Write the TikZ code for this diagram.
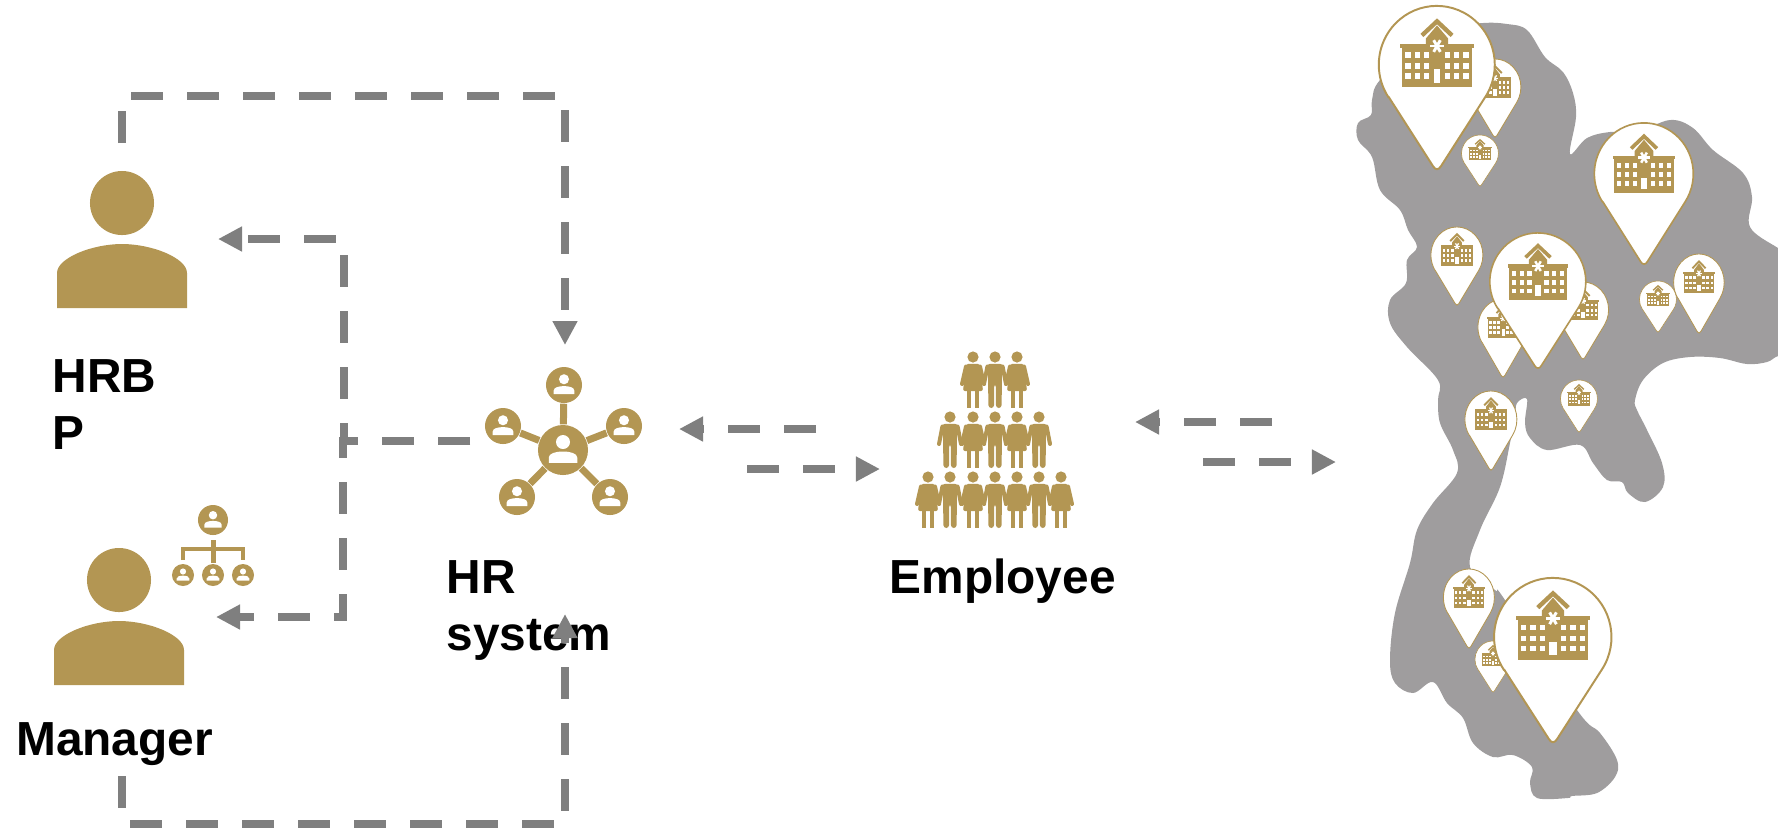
\documentclass[tikz,border=0pt]{standalone}
\usepackage{fontspec}
\setmainfont{Liberation Sans}
\usepackage{tikz}
\usetikzlibrary{arrows.meta}

\definecolor{gold}{HTML}{B39653}
\definecolor{linegray}{HTML}{7F7F7F}
\definecolor{mapgray}{HTML}{9F9D9E}

% white bust inside a round user icon
\newcommand{\bustin}[3]{
  \fill[white] (#1,{#2-.32*#3}) circle [radius={.28*#3}];
  \fill[white] ({#1-.57*#3},{#2+.51*#3}) -- ({#1-.57*#3},{#2+.3*#3})
    .. controls ({#1-.57*#3},{#2+.14*#3}) and ({#1-.3*#3},{#2+.06*#3}) .. (#1,{#2+.06*#3})
    .. controls ({#1+.3*#3},{#2+.06*#3}) and ({#1+.57*#3},{#2+.14*#3}) .. ({#1+.57*#3},{#2+.3*#3})
    -- ({#1+.57*#3},{#2+.51*#3}) -- cycle;
}
% shoulders of a large person, x y of the head centre
\newcommand{\shoulders}[2]{
  \fill[gold] (#1-65,#2+105) -- (#1-65,#2+70) .. controls (#1-65,#2+55) and (#1-30,#2+41) .. (#1,#2+41)
    .. controls (#1+30,#2+41) and (#1+65,#2+55) .. (#1+65,#2+70) -- (#1+65,#2+105) -- cycle;
}
\newcommand{\manfig}[2]{
  \begin{scope}[shift={(#1,#2)}]
    \fill[gold] (0,0) circle [radius=5.6];
    \fill[gold,rounded corners=.03cm] (-8,6.8) -- (8,6.8) -- (7,14) -- (6.6,51) -- (.9,51) -- (.9,27) -- (-.9,27) -- (-.9,51) -- (-6.6,51) -- (-7,14) -- cycle;
    \draw[gold,line width=.04cm,line cap=round] (-7.6,9.5) -- (-11,27);
    \draw[gold,line width=.04cm,line cap=round] (7.6,9.5) -- (11,27);
  \end{scope}
}
\newcommand{\womanfig}[2]{
  \begin{scope}[shift={(#1,#2)}]
    \fill[gold] (0,0) circle [radius=5.6];
    \fill[gold,rounded corners=.02cm] (-7,6.8) -- (7,6.8) -- (10,34) -- (-10,34) -- cycle;
    \fill[gold] (-6.2,33) rectangle (-2,51);
    \fill[gold] (2.2,33) rectangle (6.4,51);
    \draw[gold,line width=.04cm,line cap=round] (-7,9.5) -- (-11,27);
    \draw[gold,line width=.04cm,line cap=round] (7,9.5) -- (11,27);
  \end{scope}
}
% map pin with hospital: x, top, tip, half width
\newcommand{\hospital}[4]{
  \begin{scope}[shift={(#1,{#2+(#3-#2)/2.77})},xscale=#4,yscale={(#3-#2)/2.77}]
    \filldraw[fill=white,draw=gold,line width={#4*0.00034cm}] (-.83,.55) -- (-.07,1.72)
      .. controls (-.03,1.79) and (.03,1.79) .. (.07,1.72) -- (.83,.55)
      arc [start angle=33.5,end angle=-213.5,radius=1] -- cycle;
    \draw[gold,line width={#4*0.00075cm}] (-.26,-.5) -- (0,-.74) -- (.26,-.5);
    \fill[gold] (-.19,-.34) -- (-.19,-.45) -- (0,-.67) -- (.19,-.45) -- (.19,-.34) -- cycle;
    \fill[gold] (-.63,-.36) rectangle (.63,-.29);
    \fill[gold] (-.6,-.3) rectangle (.6,.38);
    \foreach \wx in {-.5,-.34,-.18,.18,.34,.5}
      \foreach \wy in {-.167,.017,.19}
        \fill[white] (\wx-.045,\wy-.045) rectangle (\wx+.045,\wy+.045);
    \fill[white] (-.06,.075) rectangle (.06,.3);
    \foreach \a in {0,60,120}
      \draw[white,line width={#4*0.0005cm}] (\a:.115) ++(0,-.32) -- ++({\a+180}:.23);
  \end{scope}
}

\begin{document}
\begin{tikzpicture}[x=.01cm,y=-.01cm]
\tikzstyle{connect}=[-{Triangle[length=.24cm,width=.235cm]}, line width=.08cm, draw=linegray, dash pattern=on .32cm off .24cm]
\tikzstyle{head}=[circle, fill=gold, inner sep=0pt, minimum size=.64cm]
\tikzstyle{peer}=[circle, fill=gold, inner sep=0pt, minimum size=.36cm]
\tikzstyle{subpeer}=[circle, fill=gold, inner sep=0pt, minimum size=.22cm]
\tikzstyle{spoke}=[draw=gold, line width=.07cm]
\tikzstyle{tree}=[draw=gold, line width=.035cm]
\tikzstyle{lbl}=[inner sep=0pt, align=left, font=\bfseries\fontsize{13.6}{16.2}\selectfont]
\useasboundingbox (0,0) rectangle (1778,829);

% map
\fill[mapgray] plot[smooth cycle, tension=.6] coordinates {
  (1483,23) (1507,24) (1527,30) (1545,57) (1563,72) (1573,93) (1576,117) (1570,154)
  (1587,138) (1610,132) (1637,132) (1670,120) (1693,128) (1713,150) (1743,173) (1752,197)
  (1750,227) (1778,248) (1800,260) (1800,350) (1778,356) (1767,362) (1747,364) (1720,358) (1690,357)
  (1663,363) (1643,380) (1635,400) (1637,410) (1647,430) (1662,463) (1663,487) (1645,502)
  (1628,493) (1622,482) (1607,480) (1593,463) (1580,445) (1547,450) (1530,438) (1525,423)
  (1527,399) (1517,403) (1515,417) (1510,443) (1500,487) (1480,530) (1470,567) (1495,590)
  (1505,600) (1577,710) (1600,733) (1617,760) (1615,777) (1597,793) (1572,796) (1568,798)
  (1537,798) (1530,783) (1532,767) (1513,755) (1493,757) (1473,743) (1463,718) (1447,703)
  (1433,682) (1413,693) (1395,683) (1390,660) (1395,613) (1410,563) (1417,530) (1433,503)
  (1457,473) (1453,450) (1440,423) (1438,400) (1438,380) (1407,347) (1390,323) (1390,300)
  (1406,283) (1407,260) (1417,247) (1408,230) (1400,210) (1380,190) (1372,157) (1358,140)
  (1358,123) (1371,115) (1372,100) (1380,80) (1420,45) (1450,28)};

% hospitals
\hospital{1495}{59}{137}{26}
\hospital{1437}{6}{169}{58}
\hospital{1480}{135}{186}{18.5}
\hospital{1644}{123}{264}{49.5}
\hospital{1457}{227}{305}{26}
\hospital{1583}{282}{359}{25.7}
\hospital{1503}{299}{377}{25}
\hospital{1538}{233}{368}{48}
\hospital{1658}{281}{332}{18.5}
\hospital{1699}{254}{333}{25.3}
\hospital{1579}{380}{432}{18.5}
\hospital{1491}{391}{470}{26}
\hospital{1469}{569}{648}{25.5}
\hospital{1493}{641}{692}{18}
\hospital{1553}{578}{742}{58.7}

% persons
\node[head] (hrbp) at (122,203) {};
\shoulders{122}{203}
\node[head] (manager) at (119,580) {};
\shoulders{119}{580}

% org chart next to the manager
\node[circle, fill=gold, inner sep=0pt, minimum size=.3cm] (boss) at (213,520) {};
\node[subpeer] (sub1) at (183,575) {};
\node[subpeer] (sub2) at (213,575) {};
\node[subpeer] (sub3) at (243,575) {};
\draw[tree, line width=.05cm] (213,540) -- (sub2);
\draw[tree] (183,560) |- (243,549) -- (243,560);
\bustin{213}{520}{15}
\foreach \sx in {183,213,243} { \bustin{\sx}{575}{11} }

% hr system
\node[circle, fill=gold, inner sep=0pt, minimum size=.5cm] (hub) at (563,450) {};
\node[peer] (top) at (564,385) {};
\node[peer] (left) at (503,426) {};
\node[peer] (right) at (624,426) {};
\node[peer] (lowleft) at (517,497) {};
\node[peer] (lowright) at (610,497) {};
\foreach \p in {top,left,right,lowleft,lowright}
  \draw[spoke] (hub) -- (\p);
\bustin{563}{450}{25}
\foreach \sx/\sy in {564/385,503/426,624/426,517/497,610/497} { \bustin{\sx}{\sy}{18} }

% employees
\foreach \fx in {973,1017} { \womanfig{\fx}{357} }
\manfig{995}{357}
\foreach \fx in {950,995,1039} { \manfig{\fx}{417} }
\foreach \fx in {973,1017} { \womanfig{\fx}{417} }
\foreach \fx in {928,973,1017,1061} { \womanfig{\fx}{477} }
\foreach \fx in {950,995,1039} { \manfig{\fx}{477} }

% labels
\node[lbl, anchor=north west] (hrbplabel) at (52,359) {HRB\\P};
\node[lbl, anchor=north west] (hrlabel) at (446,560) {HR\\system};
\node[lbl, anchor=base west] (managerlabel) at (15.5,755) {Manager};
\node[lbl, anchor=base west] (employeelabel) at (889,593) {Employee};

% connector ends
\coordinate (hrbpfoot) at (122,143);
\coordinate (hrbpcorner) at (122,96);
\coordinate (hubcorner) at (565,96);
\coordinate (hubtop) at (565,345);
\coordinate (managerfoot) at (122,776);
\coordinate (managercorner) at (122,824);
\coordinate (hublowcorner) at (565,824);
\coordinate (hublow) at (565,614);
\coordinate (hubout) at (470,441);
\coordinate (forkup) at (344,441);
\coordinate (forkdown) at (343,441);
\coordinate (upcorner) at (344,239);
\coordinate (hrbpin) at (218,239);
\coordinate (downcorner) at (343,617);
\coordinate (managerin) at (216,617);
\coordinate (empoutstart) at (816,429);
\coordinate (hubin) at (679,429);
\coordinate (empinstart) at (747,469);
\coordinate (empin) at (880,469);
\coordinate (mapoutstart) at (1272,422);
\coordinate (empright) at (1135,422);
\coordinate (mapinstart) at (1203,462);
\coordinate (mapin) at (1336,462);

\draw[connect] (hrbpfoot) -- (hrbpcorner) -- (hubcorner) -- (hubtop);
\draw[connect] (managerfoot) -- (managercorner) -- (hublowcorner) -- (hublow);
\draw[connect] (hubout) -- (forkup) -- (upcorner) -- (hrbpin);
\draw[connect] (hubout) -- (forkdown) -- (downcorner) -- (managerin);
\draw[connect] (empoutstart) -- (hubin);
\draw[connect] (empinstart) -- (empin);
\draw[connect] (mapoutstart) -- (empright);
\draw[connect] (mapinstart) -- (mapin);
\end{tikzpicture}
\end{document}
